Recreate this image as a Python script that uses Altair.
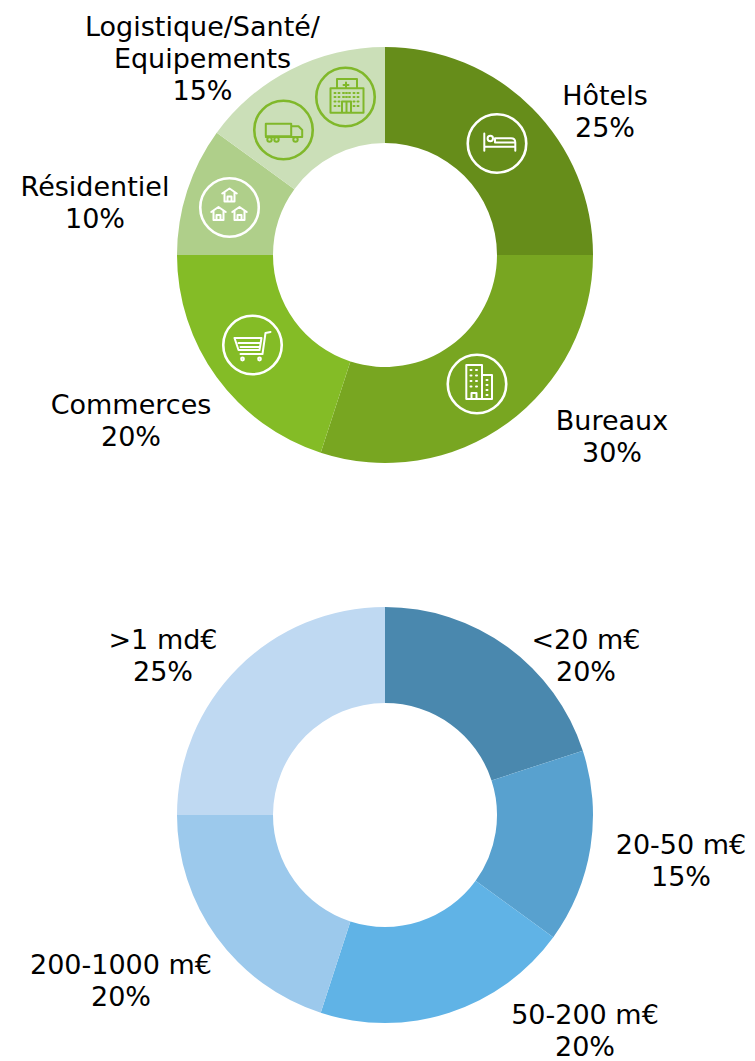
import altair as alt
import pandas as pd

SECTORS = ["Hôtels", "Bureaux", "Commerces", "Résidentiel", "Logistique/Santé/\nEquipements"]
SECTOR_PCT = [25, 30, 20, 10, 15]
SIZES = ["<20 m€", "20-50 m€", "50-200 m€", "200-1000 m€", ">1 md€"]
SIZE_PCT = [20, 15, 20, 20, 25]
GREENS = ["#668d1a", "#78a621", "#84bc26", "#afcf8a", "#cbdfb8"]
BLUES = ["#4a88ae", "#58a1cf", "#60b3e6", "#9cc9ec", "#bfd9f2"]

OFF = 8
CENTRES = [(385 - OFF, 255 - OFF), (385 - OFF, 815 - OFF)]
SECTOR_LABEL_XY = [(605, 96.5), (612, 421.5), (131, 405.5), (95, 187.5), (202.5, 28)]
SIZE_LABEL_XY = [(586, 640.5), (681, 845.5), (585, 1016), (121, 965.5), (163, 640.5)]
FONT = "DejaVu Sans"
FS = 27
LH = 32


def arcs(names, pct, centre):
    df = pd.DataFrame({"name": names, "pct": pct, "i": range(len(names))})
    return alt.Chart(df).mark_arc(innerRadius=112, outerRadius=208).encode(
        theta=alt.Theta("pct:Q", stack=True),
        order=alt.Order("i:Q"),
        color=alt.Color(
            "name:N",
            legend=None,
            scale=alt.Scale(domain=SECTORS + SIZES, range=GREENS + BLUES),
        ),
        x=alt.value(centre[0]),
        y=alt.value(centre[1]),
    )


def label(name, pct, xy):
    df = pd.DataFrame({"a": [0]})
    lines = name.split("\n") + [f"{pct}%"]
    return alt.Chart(df).mark_text(
        text=lines, font=FONT, fontSize=FS, lineHeight=LH, color="#000000",
        align="center", baseline="middle",
    ).encode(x=alt.value(xy[0] - OFF), y=alt.value(xy[1] - OFF))


def glyph(path, centre, color, sw=2.0):
    df = pd.DataFrame({"a": [0]})
    return alt.Chart(df).mark_point(
        shape=path, size=4, filled=False, stroke=color, strokeWidth=sw, opacity=1,
        strokeCap="round", strokeJoin="round",
    ).encode(x=alt.value(centre[0] - OFF), y=alt.value(centre[1] - OFF))


def ring(centre, color):
    df = pd.DataFrame({"a": [0]})
    return alt.Chart(df).mark_point(
        shape="circle", size=58.5 * 58.5, filled=False, stroke=color, strokeWidth=2.6, opacity=1,
    ).encode(x=alt.value(centre[0] - OFF), y=alt.value(centre[1] - OFF))


def M(x, y): return f"M{x:.2f} {y:.2f}"
def L(x, y): return f"L{x:.2f} {y:.2f}"


def circ(x, y, r):
    return f"M{x-r:.2f} {y:.2f}A{r} {r} 0 1 0 {x+r:.2f} {y:.2f}A{r} {r} 0 1 0 {x-r:.2f} {y:.2f}"


def rect(x0, y0, x1, y1):
    return M(x0, y0) + L(x1, y0) + L(x1, y1) + L(x0, y1) + "Z"


def dot(x, y):
    return M(x - .5, y) + L(x + .5, y)


BED = (M(-12.7, -10) + L(-12.7, 7.3) + M(-12.7, 3.3) + L(18.3, 3.3) + M(18.3, 7.3) + L(18.3, -1)
       + "Q18.3 -5.3 14 -5.3" + L(-2, -5.3) + L(-2, -1) + L(18.3, -1) + circ(-6.7, -5, 2.7))

BUILD = rect(-10.7, -19, 5, 15) + rect(5, -9, 15, 15) + M(-5.5, 15) + L(-5.5, 9) + L(-.5, 9) + L(-.5, 15)
for yy in (-14, -8.5, -3, 2.5):
    for xx in (-6, -.5):
        BUILD += dot(xx, yy)
for yy in (-4, 1, 6, 11):
    BUILD += dot(10, yy)

CART = (M(-18, -7) + L(9, -7) + L(7, 5) + L(-14, 5) + "Z" + M(-14, -2) + L(8, -2) + M(-12, 2) + L(7.5, 2)
        + M(-12, 9) + L(10, 9) + L(13, -12) + L(18, -13) + circ(-10, 14, 1.4) + circ(7, 14, 1.4))


def house(cx, cy):
    return (M(cx - 7.3, cy - 3) + L(cx, cy - 8) + L(cx + 7.3, cy - 3)
            + M(cx - 5, cy - 4) + L(cx - 5, cy + 5) + L(cx + 5, cy + 5) + L(cx + 5, cy - 4)
            + M(cx - 2, cy + 5) + L(cx - 2, cy) + L(cx + 2, cy) + L(cx + 2, cy + 5))


HOUSES = house(0, -11) + house(-11, 7.5) + house(10, 7.5)

TRUCK = (rect(-17.7, -6.3, 7.7, 6.3) + M(7.7, -3.7) + L(15, -3.7) + L(18.7, 0) + L(18.7, 7) + L(7.7, 7)
         + M(-17.7, 7) + L(7.7, 7) + circ(-14, 9.5, 2.2) + circ(-7, 9.5, 2.2) + circ(12, 9.5, 2.2))

HOSP = (rect(-15, -8.7, 18, 15.7) + rect(-8.5, -18, 11.5, -8.7) + M(.5, -14.5) + L(.5, -9.5) + M(-2, -12) + L(3, -12)
        + rect(-3.5, 4.5, 5.5, 15.7) + M(1, 4.5) + L(1, 15.7))
for yy in (-4, 0, 4.5, 9):
    for xx in (-10.5, -6.5, 8.5, 12.5):
        HOSP += dot(xx, yy)
for xx in (-2, 1, 4):
    for yy in (-4, 0):
        HOSP += dot(xx, yy)

LIME = "#80b82a"
ICONS = [
    ((497, 143.5), "#ffffff", BED),
    ((477, 384), "#ffffff", BUILD),
    ((252.5, 345), "#ffffff", CART),
    ((229.5, 207.5), "#ffffff", HOUSES),
    ((283.5, 130), LIME, TRUCK),
    ((345.5, 97), LIME, HOSP),
]

layers = [arcs(SECTORS, SECTOR_PCT, CENTRES[0]), arcs(SIZES, SIZE_PCT, CENTRES[1])]
for c, col, p in ICONS:
    layers.append(ring(c, col))
    layers.append(glyph(p, c, col))
for n, v, xy in zip(SECTORS, SECTOR_PCT, SECTOR_LABEL_XY):
    layers.append(label(n, v, xy))
for n, v, xy in zip(SIZES, SIZE_PCT, SIZE_LABEL_XY):
    layers.append(label(n, v, xy))

chart = alt.layer(*layers).properties(
    width=739, height=1053, padding=0, background="#ffffff",
    autosize=alt.AutoSizeParams(type="none"),
).configure_view(stroke=None)

chart.save("out.html", embed_options={"renderer": "svg", "actions": False})
